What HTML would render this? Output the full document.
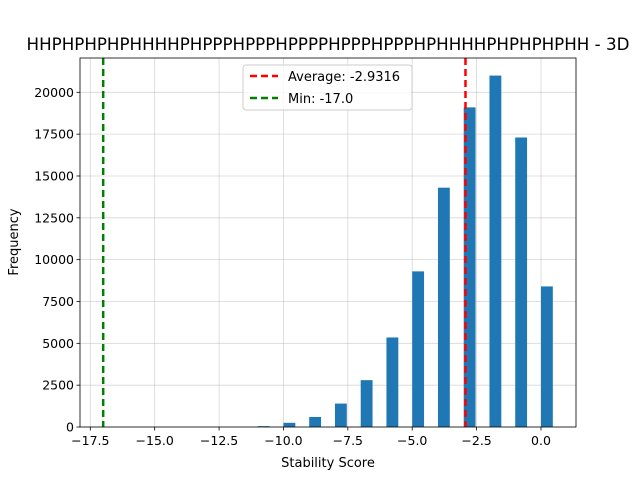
<!DOCTYPE html>
<html><head><meta charset="utf-8"><style>
body{margin:0;background:#fff;}
svg text{font-family:"DejaVu Sans","Liberation Sans",sans-serif;}
</style></head><body>
<svg id="chart" width="640" height="480" xmlns="http://www.w3.org/2000/svg">
<rect width="640" height="480" fill="#fff"/>
<g id="grid"></g>
<g id="bars"></g>
<g id="lines"></g>
<rect x="80" y="58" width="496" height="369" fill="none" stroke="#000" stroke-width="0.8"/>
<g id="xticks"></g>
<g id="yticks"></g>
<text x="328" y="50" font-size="16.7" text-anchor="middle">HHPHPHPHPHHHHPHPPPHPPPHPPPPHPPPHPPPHPHHHHPHPHPHPHH - 3D</text>
<text x="328" y="467" font-size="13" text-anchor="middle">Stability Score</text>
<text x="18" y="242" font-size="13" text-anchor="middle" transform="rotate(-90 18 242)">Frequency</text>
<g>
<rect x="243" y="65" width="169" height="45" rx="3" fill="#fff" fill-opacity="0.8" stroke="#ccc"/>
<line x1="250" y1="76" x2="278" y2="76" stroke="red" stroke-width="2.5" stroke-dasharray="7,4"/>
<text x="288" y="81" font-size="13">Average: -2.9316</text>
<line x1="250" y1="98" x2="278" y2="98" stroke="green" stroke-width="2.5" stroke-dasharray="7,4"/>
<text x="288" y="103" font-size="13">Min: -17.0</text>
</g>
</svg>
<script>
const binStarts=[-17,-11,-10,-9,-8,-7,-6,-5,-4,-3,-2,-1,0];
const counts=[1,50,250,600,1400,2800,5350,9300,14300,19100,21000,17300,8400];
const xTicks=[-17.5,-15.0,-12.5,-10.0,-7.5,-5.0,-2.5,0.0];
const yTicks=[0,2500,5000,7500,10000,12500,15000,17500,20000];
const avgValue=-2.9316;
const minValue=-17.0;
const binWidth=0.46;
const NS="http://www.w3.org/2000/svg";
const L=80,R=576,T=58,B=427,xmin=-17.9,xmax=1.36,ymax=22050;
const sx=v=>L+(v-xmin)/(xmax-xmin)*(R-L);
const sy=v=>B-v/ymax*(B-T);
function mk(tag,attrs,parent){const e=document.createElementNS(NS,tag);for(const k in attrs)e.setAttribute(k,attrs[k]);document.getElementById(parent).appendChild(e);return e;}
xTicks.forEach(t=>{
 const x=sx(t);
 const g=mk('line',{x1:x,x2:x,y1:T,y2:B,stroke:'#b0b0b0','stroke-width':0.8,'stroke-opacity':0.5},'grid');
 
 
 mk('line',{x1:x,x2:x,y1:B,y2:B+3.5,stroke:'#000','stroke-width':0.8},'xticks');
 const tx=mk('text',{x:x,y:B+18,'font-size':12.5,'text-anchor':'middle'},'xticks');
 tx.textContent=t.toFixed(1).replace('-','\u2212');
 
 
});
yTicks.forEach(t=>{
 const y=sy(t);
 const g=mk('line',{x1:L,x2:R,y1:y,y2:y,stroke:'#b0b0b0','stroke-width':0.8,'stroke-opacity':0.5},'grid');
 
 
 mk('line',{x1:L-3.5,x2:L,y1:y,y2:y,stroke:'#000','stroke-width':0.8},'yticks');
 const tx=mk('text',{x:L-6,y:y+4.5,'font-size':12.5,'text-anchor':'end'},'yticks');
 tx.textContent=String(t);
 
 
});
binStarts.forEach((b,i)=>{
 const x0=sx(b),x1=sx(b+binWidth),y=sy(counts[i]);
 const r=mk('rect',{x:x0,y:y,width:x1-x0,height:B-y,fill:'#1f77b4'},'bars');
 
 
});
const a=mk('line',{x1:sx(avgValue),x2:sx(avgValue),y1:T,y2:B,stroke:'red','stroke-width':2.5,'stroke-dasharray':'7,4'},'lines');


const m=mk('line',{x1:sx(minValue),x2:sx(minValue),y1:T,y2:B,stroke:'green','stroke-width':2.5,'stroke-dasharray':'7,4'},'lines');


</script>
</body></html>
